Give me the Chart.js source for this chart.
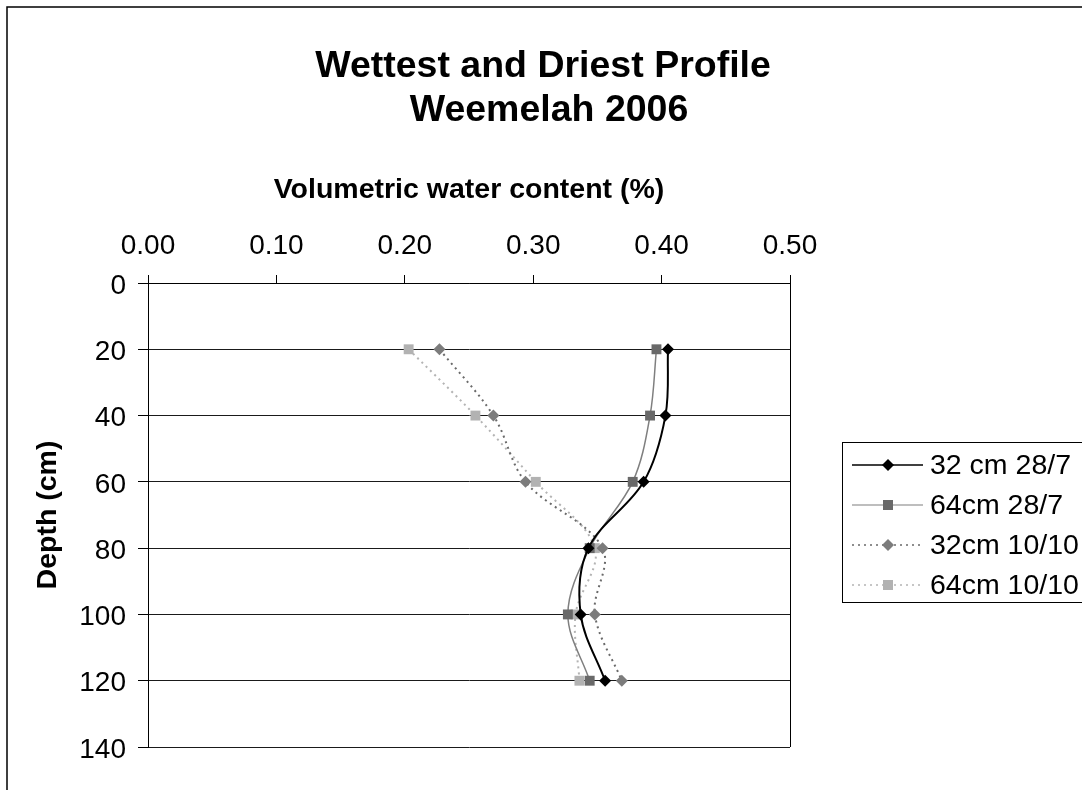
<!DOCTYPE html>
<html>
<head>
<meta charset="utf-8">
<title>Wettest and Driest Profile</title>
<script src="https://cdn.jsdelivr.net/npm/chart.js@4/dist/chart.umd.min.js"></script>
<style>
  html, body { margin: 0; padding: 0; background: #fff; overflow: hidden; }
  #wrap { position: relative; width: 1082px; height: 790px; }
</style>
</head>
<body>
<div id="wrap"><canvas id="chart" width="1082" height="790"></canvas></div>
<script>
// Depths of the probe readings (cm)
const depths = [20, 40, 60, 80, 100, 120];

// Volumetric water content at each depth
const wet32 = [0.405, 0.403, 0.386, 0.343, 0.337, 0.356];   // 32 cm 28/7
const wet64 = [0.396, 0.391, 0.3775, 0.344, 0.327, 0.344];  // 64cm 28/7
const dry32 = [0.227, 0.269, 0.294, 0.354, 0.348, 0.369];   // 32cm 10/10
const dry64 = [0.203, 0.255, 0.302, 0.348, 0.333, 0.336];   // 64cm 10/10

const seriesNames = ['32 cm 28/7', '64cm 28/7', '32cm 10/10', '64cm 10/10'];
const titleLines = ['Wettest and Driest Profile', 'Weemelah 2006'];
const xAxisTitle = 'Volumetric water content (%)';
const yAxisTitle = 'Depth (cm)';

const FONT = "'Liberation Sans', Arial, sans-serif";

const styles = [
  { line: '#000000', lineWidth: 2,   dash: [],     point: 'rectRot', radius: 6, fill: '#000000' },
  { line: '#7f7f7f', lineWidth: 1.5, dash: [],     point: 'rect',    radius: 7, fill: '#696969' },
  { line: '#6a6a6a', lineWidth: 2,   dash: [2, 4], point: 'rectRot', radius: 6, fill: '#7c7c7c' },
  { line: '#b4b4b4', lineWidth: 2,   dash: [2, 4], point: 'rect',    radius: 7, fill: '#b2b2b2' }
];

const values = [wet32, wet64, dry32, dry64];
const datasets = values.map((vals, i) => ({
  label: seriesNames[i],
  data: depths.map((d, j) => ({ x: vals[j], y: d })),
  borderColor: styles[i].line,
  borderWidth: styles[i].lineWidth,
  borderDash: styles[i].dash,
  backgroundColor: styles[i].fill,
  pointStyle: styles[i].point,
  pointRadius: styles[i].radius,
  pointBorderWidth: 0,
  pointBackgroundColor: styles[i].fill,
  pointBorderColor: styles[i].fill,
  tension: 0.35,
  fill: false
}));

// Title, legend and chart frame drawn on the canvas
const decorations = {
  id: 'decorations',
  beforeDraw(chart) {
    const ctx = chart.ctx;
    ctx.save();
    ctx.fillStyle = '#ffffff';
    ctx.fillRect(0, 0, chart.width, chart.height);
    ctx.strokeStyle = '#000000';
    ctx.lineWidth = 1.5;
    ctx.beginPath();
    ctx.moveTo(7, chart.height + 5);
    ctx.lineTo(7, 7);
    ctx.lineTo(chart.width + 5, 7);
    ctx.stroke();
    ctx.restore();
  },
  afterDraw(chart) {
    const ctx = chart.ctx;
    ctx.save();
    // chart title
    ctx.fillStyle = '#000000';
    ctx.font = 'bold 37.5px ' + FONT;
    ctx.textAlign = 'center';
    ctx.textBaseline = 'alphabetic';
    ctx.fillText(titleLines[0], 543, 77);
    ctx.fillText(titleLines[1], 549, 121);

    // legend box
    ctx.strokeStyle = '#000000';
    ctx.lineWidth = 1;
    ctx.strokeRect(842.5, 442.5, 300, 160);
    ctx.font = '28.5px ' + FONT;
    ctx.textAlign = 'left';
    ctx.textBaseline = 'middle';
    chart.data.datasets.forEach((ds, i) => {
      const y = 465 + i * 40;
      const st = styles[i];
      ctx.save();
      ctx.strokeStyle = st.line;
      ctx.lineWidth = i === 1 ? 1.2 : 1.5;
      ctx.setLineDash(st.dash);
      ctx.beginPath();
      ctx.moveTo(852, y);
      ctx.lineTo(923, y);
      ctx.stroke();
      ctx.restore();
      ctx.fillStyle = st.fill;
      ctx.beginPath();
      if (st.point === 'rectRot') {
        const r = 6;
        ctx.moveTo(888 - r, y);
        ctx.lineTo(888, y - r);
        ctx.lineTo(888 + r, y);
        ctx.lineTo(888, y + r);
        ctx.closePath();
      } else {
        ctx.rect(883, y - 5, 10, 10);
      }
      ctx.fill();
      ctx.fillStyle = '#000000';
      ctx.fillText(ds.label, 930, y + 1);
    });
    ctx.restore();
  }
};

new Chart(document.getElementById('chart'), {
  type: 'line',
  data: { datasets },
  options: {
    indexAxis: 'y',
    responsive: false,
    animation: false,
    events: [],
    layout: { padding: { top: 0, left: 0, right: 292, bottom: 43 } },
    plugins: {
      legend: { display: false },
      title: { display: false },
      tooltip: { enabled: false }
    },
    scales: {
      x: {
        type: 'linear',
        position: 'top',
        min: 0,
        max: 0.5,
        afterFit(scale) { scale.height = 283; },
        ticks: {
          stepSize: 0.1,
          padding: 12,
          color: '#000000',
          font: { family: FONT, size: 28 },
          callback: v => Number(v).toFixed(2),
          maxRotation: 0
        },
        grid: {
          drawOnChartArea: true,
          tickLength: 8,
          tickColor: '#000000',
          color: c => (c.tick && (c.tick.value === 0 || Math.abs(c.tick.value - 0.5) < 1e-9)) ? '#000000' : 'rgba(0,0,0,0)',
          lineWidth: 1
        },
        border: { display: true, color: '#000000', width: 1 },
        title: {
          display: true,
          text: xAxisTitle,
          color: '#000000',
          font: { family: FONT, size: 28.5, weight: 'bold' },
          padding: { top: 173.5, bottom: 0 }
        }
      },
      y: {
        type: 'linear',
        position: 'left',
        reverse: true,
        min: 0,
        max: 140,
        afterFit(scale) { scale.width = 148; },
        ticks: {
          stepSize: 20,
          padding: 12,
          labelOffset: 3,
          color: '#000000',
          font: { family: FONT, size: 28 }
        },
        grid: {
          drawOnChartArea: true,
          tickLength: 10,
          tickColor: '#000000',
          color: '#1a1a1a',
          lineWidth: 1
        },
        border: { display: true, color: '#000000', width: 1 },
        title: {
          display: true,
          text: yAxisTitle,
          color: '#000000',
          font: { family: FONT, size: 28.5, weight: 'bold' },
          padding: { top: 31.5, bottom: 0 }
        }
      }
    }
  },
  plugins: [decorations]
});
</script>
</body>
</html>
